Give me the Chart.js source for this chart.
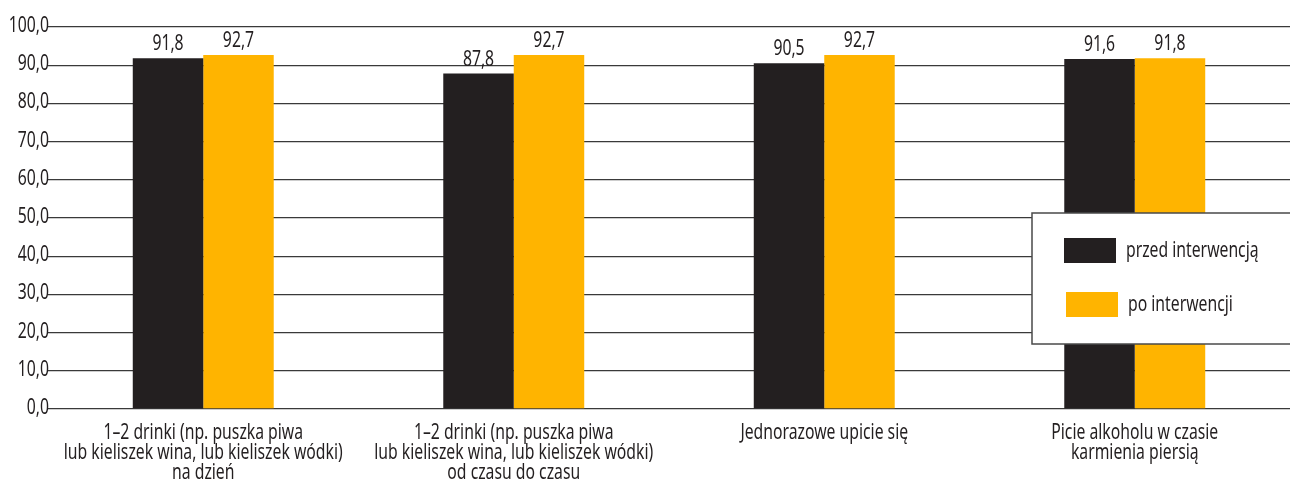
<!DOCTYPE html>
<html>
<head>
<meta charset="utf-8">
<script src="https://cdn.jsdelivr.net/npm/chart.js@4"></script>
<style>
  html, body { margin: 0; padding: 0; background: #ffffff; }
  #wrap { width: 1290px; height: 483px; }
</style>
</head>
<body>
<div id="wrap"><canvas id="c" width="1290" height="483"></canvas></div>
<script>
// Categories (multi-line labels)
const categories = [
  ["1–2 drinki (np. puszka piwa", "lub kieliszek wina, lub kieliszek wódki)", "na dzień"],
  ["1–2 drinki (np. puszka piwa", "lub kieliszek wina, lub kieliszek wódki)", "od czasu do czasu"],
  ["Jednorazowe upicie się"],
  ["Picie alkoholu w czasie", "karmienia piersią"]
];
const seriesNames = ["przed interwencją", "po interwencji"];
const beforeValues = [91.8, 87.8, 90.5, 91.6];
const afterValues = [92.7, 92.7, 92.7, 91.8];
const yTicks = [0, 10, 20, 30, 40, 50, 60, 70, 80, 90, 100];

const FONT = "'Noto Sans', 'Open Sans', sans-serif";
const FONT_SIZE = 21;
const NARROW = 0.75;   // horizontal squeeze for a condensed look
const DARK = "#231f20";
const ORANGE = "#ffb400";
const fmt = v => v.toFixed(1).replace(".", ",");

// Draws condensed text: the glyphs are squeezed horizontally around the anchor
function narrowText(ctx, text, x, y, align) {
  ctx.save();
  ctx.translate(x, y);
  ctx.scale(NARROW, 1);
  ctx.textAlign = align;
  ctx.fillText(text, 0, 0);
  ctx.restore();
}

// Value labels above each bar
const valueLabels = {
  id: "valueLabels",
  afterDatasetsDraw(chart) {
    const ctx = chart.ctx;
    ctx.save();
    ctx.font = FONT_SIZE + "px " + FONT;
    ctx.fillStyle = DARK;
    ctx.textBaseline = "alphabetic";
    chart.data.datasets.forEach((ds, di) => {
      chart.getDatasetMeta(di).data.forEach((bar, i) => {
        narrowText(ctx, fmt(ds.data[i]), bar.x, bar.y - 8, "center");
      });
    });
    ctx.restore();
  }
};

// Axis labels, placed with the chart's own scales
const axisText = {
  id: "axisText",
  afterDraw(chart) {
    const ctx = chart.ctx;
    const xs = chart.scales.x, ys = chart.scales.y;
    ctx.save();
    ctx.font = FONT_SIZE + "px " + FONT;
    ctx.fillStyle = DARK;
    ctx.textBaseline = "alphabetic";
    yTicks.forEach(v => {
      narrowText(ctx, fmt(v), ys.right + 1, ys.getPixelForValue(v) + 5, "right");
    });
    categories.forEach((lines, i) => {
      const cx = xs.getPixelForTick(i);
      lines.forEach((line, k) => {
        narrowText(ctx, line, cx, xs.top + 30 + k * 20, "center");
      });
    });
    ctx.restore();
  }
};

// Boxed legend inside the plot, on the right
const boxLegend = {
  id: "boxLegend",
  afterDraw(chart) {
    const ctx = chart.ctx;
    const area = chart.chartArea;
    const x0 = area.right - 258, y0 = 213, w = 270, h = 131;
    ctx.save();
    ctx.fillStyle = "#ffffff";
    ctx.fillRect(x0, y0, w, h);
    ctx.strokeStyle = "#4a4a4a";
    ctx.lineWidth = 1.5;
    ctx.strokeRect(x0, y0, w, h);
    ctx.font = FONT_SIZE + "px " + FONT;
    ctx.textBaseline = "alphabetic";
    chart.data.datasets.forEach((ds, i) => {
      const sx = x0 + 32 + i * 2;
      const sy = y0 + 25 + i * 54;
      ctx.fillStyle = ds.backgroundColor;
      ctx.fillRect(sx, sy, 52, 25);
      ctx.fillStyle = DARK;
      narrowText(ctx, ds.label, sx + 62, sy + 19, "left");
    });
    ctx.restore();
  }
};

new Chart(document.getElementById("c"), {
  type: "bar",
  data: {
    labels: categories,
    datasets: [
      { label: seriesNames[0], data: beforeValues, backgroundColor: DARK },
      { label: seriesNames[1], data: afterValues, backgroundColor: ORANGE }
    ]
  },
  options: {
    responsive: false,
    animation: false,
    devicePixelRatio: 1,
    layout: { padding: { top: 27, right: 0, left: 0, bottom: 0 } },
    datasets: { bar: { categoryPercentage: 0.454, barPercentage: 1.0, borderWidth: 0 } },
    plugins: { legend: { display: false }, tooltip: { enabled: false } },
    scales: {
      x: {
        grid: { display: false },
        border: { display: false },
        ticks: { display: false },
        afterFit(scale) { scale.height = 74; }
      },
      y: {
        min: 0,
        max: 100,
        afterBuildTicks(scale) { scale.ticks = yTicks.map(v => ({ value: v })); },
        grid: { color: "#3a3a3a", lineWidth: 1.3, drawTicks: false },
        border: { display: false },
        ticks: { display: false },
        afterFit(scale) { scale.width = 48; }
      }
    }
  },
  plugins: [valueLabels, axisText, boxLegend]
});
</script>
</body>
</html>
